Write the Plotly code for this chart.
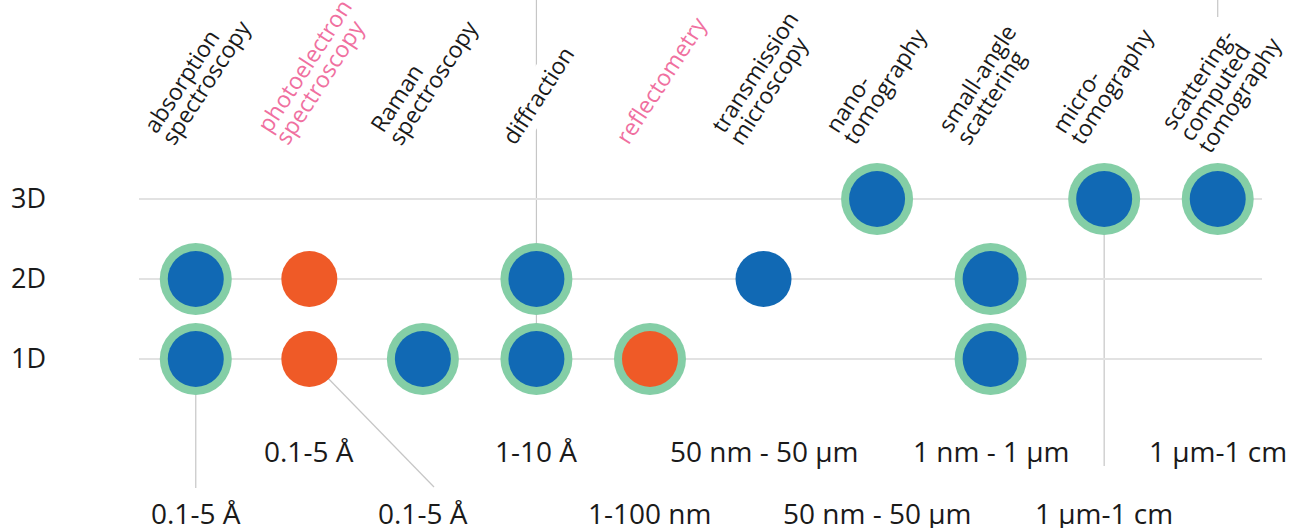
import math
import plotly.graph_objects as go

# ---------------- data ----------------
techniques = [
    "absorption<br>spectroscopy",
    "photoelectron<br>spectroscopy",
    "Raman<br>spectroscopy",
    "diffraction",
    "reflectometry",
    "transmission<br>microscopy",
    "nano-<br>tomography",
    "small-angle<br>scattering",
    "micro-<br>tomography",
    "scattering-<br>computed<br>tomography",
]
label_highlight = [False, True, False, False, True, False, False, False, False, False]
resolution = ["0.1-5 Å", "0.1-5 Å", "0.1-5 Å", "1-10 Å", "1-100 nm",
              "50 nm - 50 µm", "50 nm - 50 µm", "1 nm - 1 µm", "1 µm-1 cm", "1 µm-1 cm"]
dims = ["1D", "2D", "3D"]
dim_values = [1, 2, 3]

# one entry per dot: technique index, dimensionality, fill, ring
pt_tech = [0, 0, 1, 1, 2, 3, 3, 4, 5, 6, 7, 7, 8, 9]
pt_dim = [2, 1, 2, 1, 1, 2, 1, 1, 2, 3, 2, 1, 3, 3]
pt_fill = ["blue", "blue", "orange", "orange", "blue", "blue", "blue", "orange",
           "blue", "blue", "blue", "blue", "blue", "blue"]
pt_ring = [1, 1, 0, 0, 1, 1, 1, 1, 0, 1, 1, 1, 1, 1]

# ---------------- styling / geometry ----------------
W, H = 1290, 528
ML, MR = 139, 28
X_RANGE = [-0.5, 9.39]
PXU = (W - ML - MR) / (X_RANGE[1] - X_RANGE[0])
Y_TOP = 5.4875
PYU = 80.0
Y_RANGE = [Y_TOP - H / PYU, Y_TOP]

GREEN = "#84cea6"
BLUE = "#1169b4"
ORANGE = "#ef5a27"
PINK = "#f0709f"
TEXT = "#1a1a1a"
GRID = "#e2e2e2"
LEADER = "#c6c6c6"
FONT = "Open Sans"


def y_of_px(p):
    return Y_TOP - p / PYU


def x_px(i):
    return ML + (i - X_RANGE[0]) * PXU


def x_of_px(p):
    return X_RANGE[0] + (p - ML) / PXU


fig = go.Figure()

ring_x = [pt_tech[k] for k in range(len(pt_tech)) if pt_ring[k]]
ring_y = [pt_dim[k] for k in range(len(pt_tech)) if pt_ring[k]]
fig.add_trace(go.Scatter(x=ring_x, y=ring_y, mode="markers",
                         marker=dict(size=72, color=GREEN, line=dict(width=0)),
                         hoverinfo="skip", showlegend=False))
for fill, col in (("blue", BLUE), ("orange", ORANGE)):
    xs = [pt_tech[k] for k in range(len(pt_tech)) if pt_fill[k] == fill]
    ys = [pt_dim[k] for k in range(len(pt_tech)) if pt_fill[k] == fill]
    fig.add_trace(go.Scatter(x=xs, y=ys, mode="markers",
                             marker=dict(size=56, color=col, line=dict(width=0)),
                             hoverinfo="skip", showlegend=False))

# leader lines
leaders = [
    (3, Y_TOP, 3, 1),
    (8, 3, 8, y_of_px(466)),
    (9, Y_TOP, 9, y_of_px(17)),
    (0, 1, 0, y_of_px(488)),
    (1, 1, x_of_px(434), y_of_px(487)),
]
for x0, y0, x1, y1 in leaders:
    fig.add_shape(type="line", x0=x0, y0=y0, x1=x1, y1=y1, xref="x", yref="y",
                  line=dict(color=LEADER, width=1.2), layer="below")

# rotated column labels, one annotation per line
ANG = 57.0
s, c = math.sin(math.radians(ANG)), math.cos(math.radians(ANG))
LFS = 23
LINE_GAP = 21.5
BOX_H = 1.362 * LFS + 4
BASE_TO_BOTTOM = 0.293 * LFS + 2
LABEL_NUDGE = {9: (14, 9)}
annotations = []
for i, lab in enumerate(techniques):
    lines = lab.split("<br>")
    n = len(lines)
    nx, ny = LABEL_NUDGE.get(i, (0, 0))
    for j, ln in enumerate(lines):
        k = n - 1 - j  # 0 = bottom line
        sx = x_px(i) - 23 + nx - k * LINE_GAP * s
        sy = 148 + ny - k * LINE_GAP * c
        blx = sx + BASE_TO_BOTTOM * s
        bly = sy + BASE_TO_BOTTOM * c
        left = blx - BOX_H * s
        annotations.append(dict(
            x=i, y=y_of_px(bly), xref="x", yref="y",
            xshift=left - x_px(i), xanchor="left", yanchor="bottom",
            text=ln, showarrow=False, textangle=-ANG,
            bgcolor="white" if n == 1 else None,
            font=dict(family=FONT, size=LFS, color=PINK if label_highlight[i] else TEXT),
        ))

# resolution labels (two staggered rows)
for i, r in enumerate(resolution):
    py = 451 if i % 2 == 1 else 513
    annotations.append(dict(
        x=i, y=y_of_px(py), xref="x", yref="y", xanchor="center", yanchor="middle",
        text=r, showarrow=False, font=dict(family=FONT, size=28, color=TEXT),
    ))

fig.update_layout(
    width=W, height=H,
    margin=dict(l=ML, r=MR, t=0, b=0),
    paper_bgcolor="white", plot_bgcolor="white",
    annotations=annotations,
    hovermode=False,
    xaxis=dict(range=X_RANGE, visible=False, fixedrange=True),
    yaxis=dict(range=Y_RANGE, tickvals=dim_values, ticktext=dims,
               showgrid=True, gridcolor=GRID, gridwidth=2, zeroline=False,
               showline=False, ticks="", ticklabelstandoff=92,
               tickfont=dict(family=FONT, size=27, color=TEXT), fixedrange=True),
)

fig.write_html("out.html", config={"displayModeBar": False},
               post_script="document.body.style.margin='0';document.body.style.overflow='hidden';")
